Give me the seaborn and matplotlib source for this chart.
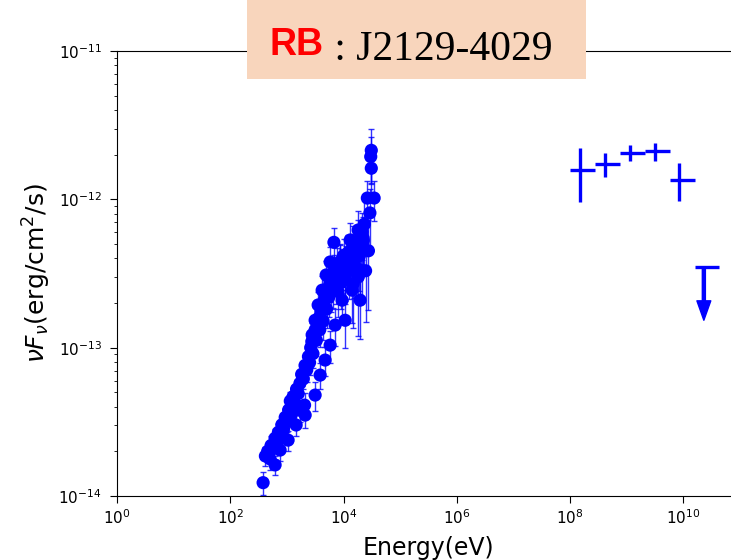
import numpy as np
import pandas as pd
import matplotlib
matplotlib.use("Agg")
import matplotlib.pyplot as plt
import matplotlib.ticker as mticker
from matplotlib.patches import Rectangle
import seaborn as sns

# ---------------- data ----------------
# X-ray spectrum (energy in eV, nuFnu in erg/cm2/s)
xray_energy = [380, 417, 457, 501, 525, 575, 617, 661, 708, 759,
               813, 871, 933, 1000, 1072, 1148, 1202, 1288, 1380, 1479,
               1585, 1698, 2050, 1820, 1950, 2089, 2239, 2399, 2512, 2630,
               2754, 2884, 3020, 3162, 3311, 3467, 3631, 3802, 3981, 4169,
               4365, 4571, 4786, 5012, 5248, 5495, 5754, 6026, 6310, 6607,
               6918, 7244, 7586, 7943, 8318, 8710, 9120, 9550, 10000, 10470,
               11220, 12020, 12590, 13490, 14450, 15490, 16600, 17780, 19050, 19950,
               21380, 22390, 6761, 26300, 34700, 30900, 30900, 30200, 29200, 23400,
               20900, 27500, 24500, 18200, 14800,
               2790, 3150, 3560, 4190, 4930, 5800, 8710, 10670, 9440, 10670,
               7110, 5800, 4730, 3860, 3150, 2100, 1710, 1455, 1050, 759,
               619, 16000, 19600, 13100, 18100, 22200, 14200, 19600]
xray_flux = [1.23e-14, 1.86e-14, 2.0e-14, 1.78e-14, 2.19e-14, 2.09e-14, 2.45e-14, 2.29e-14, 2.69e-14, 2.51e-14,
             3.02e-14, 2.82e-14, 3.39e-14, 3.16e-14, 3.80e-14, 4.37e-14, 3.55e-14, 4.68e-14, 4.17e-14, 5.25e-14,
             4.90e-14, 5.75e-14, 4.10e-14, 6.61e-14, 6.17e-14, 7.59e-14, 7.08e-14, 8.71e-14, 7.94e-14, 1.0e-13,
             1.10e-13, 9.12e-14, 1.20e-13, 1.32e-13, 1.12e-13, 1.41e-13, 1.58e-13, 1.32e-13, 1.74e-13, 1.91e-13,
             1.51e-13, 2.09e-13, 2.29e-13, 1.82e-13, 2.51e-13, 2.19e-13, 2.75e-13, 2.40e-13, 3.02e-13, 2.63e-13,
             3.31e-13, 2.82e-13, 3.55e-13, 2.40e-13, 3.16e-13, 3.80e-13, 2.75e-13, 3.47e-13, 4.17e-13, 3.02e-13,
             3.63e-13, 4.37e-13, 3.31e-13, 3.98e-13, 4.79e-13, 3.63e-13, 4.57e-13, 5.25e-13, 4.17e-13, 5.01e-13,
             6.03e-13, 5.25e-13, 5.13e-13, 1.02e-12, 1.02e-12, 1.62e-12, 2.14e-12, 1.94e-12, 8.1e-13, 6.8e-13,
             4.6e-13, 4.5e-13, 3.3e-13, 3.0e-13, 2.7e-13,
             1.22e-13, 1.53e-13, 1.94e-13, 2.44e-13, 3.09e-13, 3.78e-13, 3.78e-13, 3.09e-13, 2.09e-13, 1.53e-13,
             1.42e-13, 1.04e-13, 8.25e-14, 6.53e-14, 4.79e-14, 3.51e-14, 3.79e-14, 3.01e-14, 2.38e-14, 2.04e-14,
             1.62e-14, 4.21e-13, 3.33e-13, 5.32e-13, 6.21e-13, 5.48e-13, 2.44e-13, 2.09e-13]
xray_rel_err = [0.18, 0.15, 0.14, 0.16, 0.15, 0.14, 0.15, 0.14, 0.13, 0.14,
                0.15, 0.13, 0.14, 0.15, 0.14, 0.15, 0.16, 0.15, 0.14, 0.15,
                0.16, 0.15, 0.20, 0.16, 0.15, 0.16, 0.17, 0.16, 0.18, 0.17,
                0.18, 0.20, 0.18, 0.19, 0.22, 0.20, 0.21, 0.23, 0.22, 0.24,
                0.25, 0.22, 0.24, 0.26, 0.25, 0.27, 0.26, 0.28, 0.27, 0.30,
                0.28, 0.30, 0.32, 0.33, 0.30, 0.32, 0.34, 0.33, 0.30, 0.35,
                0.33, 0.32, 0.36, 0.34, 0.38, 0.40, 0.36, 0.38, 0.42, 0.40,
                0.35, 0.40, 0.25, 0.30, 0.30, 0.35, 0.40, 0.35, 0.45, 0.50,
                0.55, 0.60, 0.55, 0.60, 0.50,
                0.20, 0.22, 0.22, 0.24, 0.25, 0.26, 0.30, 0.32, 0.30, 0.35,
                0.28, 0.24, 0.22, 0.20, 0.22, 0.18, 0.17, 0.16, 0.15, 0.15,
                0.14, 0.35, 0.40, 0.30, 0.35, 0.38, 0.40, 0.45]

# Fermi-LAT spectral points
lat_energy = [1.5e8, 4.2e8, 1.12e9, 3.1e9, 8.5e9]
lat_e_lo = [1.0e8, 2.8e8, 7.6e8, 2.1e9, 5.8e9]
lat_e_hi = [2.8e8, 7.6e8, 2.1e9, 5.8e9, 1.6e10]
lat_flux = [1.58e-12, 1.73e-12, 2.05e-12, 2.12e-12, 1.35e-12]
lat_f_lo = [9.6e-13, 1.41e-12, 1.81e-12, 1.81e-12, 9.75e-13]
lat_f_hi = [2.22e-12, 2.05e-12, 2.32e-12, 2.40e-12, 1.76e-12]

# Fermi-LAT upper limit
ul_energy = [2.3e10]
ul_e_lo = [1.6e10]
ul_e_hi = [4.3e10]
ul_flux = [3.49e-13]
ul_arrow_end = [1.53e-13]

title_tag = "RB"
title_name = " : J2129-4029"

# ---------------- figure ----------------
fig = plt.figure(figsize=(7.31, 5.6), dpi=100)
ax = fig.add_axes([117 / 731, 64 / 560, 623 / 731, 445 / 560])

xdf = pd.DataFrame({"E": xray_energy, "F": xray_flux, "rel": xray_rel_err})
xdf["err"] = xdf["F"] * xdf["rel"]

ax.errorbar(xdf["E"], xdf["F"], yerr=xdf["err"], fmt="none", ecolor="blue",
            elinewidth=1, capsize=2.5, capthick=1, alpha=0.8, zorder=2)
sns.scatterplot(data=xdf, x="E", y="F", ax=ax, color="blue", s=90,
                edgecolor="none", linewidth=0, zorder=3, legend=False)

lat_e = np.array(lat_energy)
lat_f = np.array(lat_flux)
xerr = [lat_e - np.array(lat_e_lo), np.array(lat_e_hi) - lat_e]
yerr = [lat_f - np.array(lat_f_lo), np.array(lat_f_hi) - lat_f]
ax.errorbar(lat_e, lat_f, xerr=xerr, yerr=yerr, fmt="none", ecolor="blue",
            elinewidth=2.4, capsize=0, zorder=3)

ul_e = np.array(ul_energy)
ax.errorbar(ul_e, ul_flux, xerr=[ul_e - np.array(ul_e_lo), np.array(ul_e_hi) - ul_e],
            fmt="none", ecolor="blue", elinewidth=2.4, capsize=0, zorder=3)
ax.annotate("", xy=(ul_energy[0], ul_arrow_end[0]), xytext=(ul_energy[0], ul_flux[0]),
            arrowprops=dict(color="blue", width=2.2, headwidth=10, headlength=14, shrink=0),
            zorder=3)

ax.set_xscale("log")
ax.set_yscale("log")
ax.set_xlim(1, 1e11)
ax.set_ylim(1e-14, 1e-11)
ax.xaxis.set_major_locator(mticker.FixedLocator([1e0, 1e2, 1e4, 1e6, 1e8, 1e10]))
ax.xaxis.set_minor_locator(mticker.NullLocator())
ax.tick_params(axis="both", which="major", labelsize=11, length=5, pad=4)
ax.tick_params(axis="y", which="major", pad=6)
ax.set_xlabel("Energy(eV)", fontsize=17, labelpad=6)
ax.set_ylabel(r"$\nu F_\nu$(erg/cm$^2$/s)", fontsize=18, labelpad=4)

# title box
fig.patches.append(Rectangle((247 / 731, 1 - 79 / 560), 339 / 731, 79 / 560,
                             transform=fig.transFigure, facecolor="#F8D5BC",
                             edgecolor="none", zorder=10))
fig.text(269 / 731, 1 - 55 / 560, title_tag, color="red", fontsize=27,
         fontweight="bold", family="Liberation Sans", ha="left", va="baseline", zorder=11)
fig.text(324 / 731, 1 - 60 / 560, title_name, color="black", fontsize=30,
         family="Liberation Serif", ha="left", va="baseline", zorder=11)

fig.savefig("out.png", dpi=100)
